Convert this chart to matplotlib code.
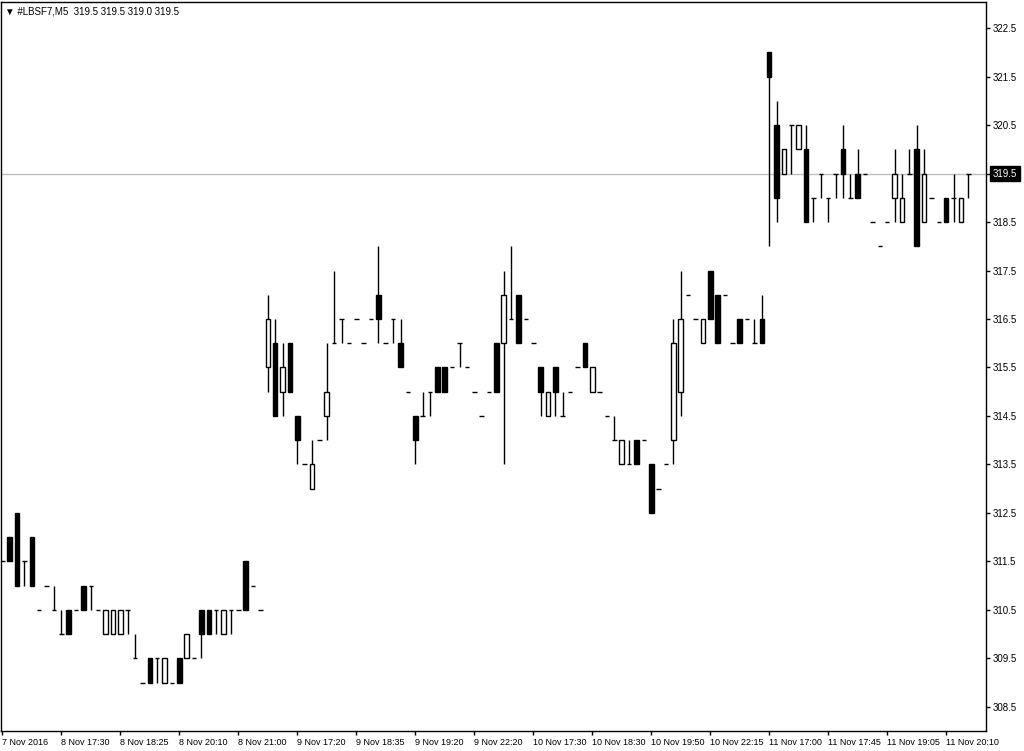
import numpy as np
import matplotlib
matplotlib.use('Agg')
import matplotlib.pyplot as plt
import matplotlib.transforms as mtransforms

plt.rcParams['font.family'] = ['Liberation Sans', 'DejaVu Sans']

# M5 bars of #LBSF7
opens = [311.5, 312.0, 312.5, 311.5, 312.0, 310.5, 311.0, 310.5, 310.0, 310.5,
         310.5, 311.0, 311.0, 310.5, 310.0, 310.0, 310.0, 310.5, 309.5, 309.0,
         309.5, 309.5, 309.0, 309.0, 309.5, 309.5, 309.5, 310.5, 310.5, 310.5,
         310.0, 310.5, 310.5, 311.5, 311.0, 310.5, 315.5, 316.0, 315.0, 316.0,
         314.5, 313.5, 313.0, 314.0, 314.5, 316.0, 316.5, 316.0, 316.5, 316.0,
         316.5, 317.0, 316.0, 316.5, 316.0, 315.0, 314.5, 314.5, 315.0, 315.5,
         315.5, 315.5, 316.0, 315.5, 315.0, 314.5, 315.0, 316.0, 316.0, 316.5,
         317.0, 316.5, 316.0, 315.5, 314.5, 315.5, 314.5, 315.0, 315.5, 316.0,
         315.0, 315.0, 314.5, 314.0, 313.5, 313.5, 314.0, 314.0, 313.5, 313.0,
         313.5, 314.0, 315.0, 317.0, 316.5, 316.0, 317.5, 317.0, 317.0, 316.0,
         316.5, 316.5, 316.0, 316.5, 322.0, 320.5, 319.5, 320.5, 320.0, 320.0,
         319.0, 319.5, 319.0, 319.5, 320.0, 319.0, 319.5, 319.5, 318.5, 318.0,
         318.5, 319.0, 318.5, 319.5, 320.0, 318.5, 319.0, 318.5, 319.0, 319.0,
         318.5, 319.5]
highs = [311.5, 312.0, 312.5, 311.5, 312.0, 310.5, 311.0, 311.0, 310.5, 310.5,
         310.5, 311.0, 311.0, 310.5, 310.5, 310.5, 310.5, 310.5, 310.0, 309.0,
         309.5, 309.5, 309.5, 309.0, 309.5, 310.0, 309.5, 310.5, 310.5, 310.5,
         310.5, 310.5, 310.5, 311.5, 311.0, 310.5, 317.0, 316.5, 316.0, 316.0,
         314.5, 313.5, 314.0, 314.0, 316.0, 317.5, 316.5, 316.0, 316.5, 316.0,
         316.5, 318.0, 316.0, 316.5, 316.5, 315.0, 314.5, 315.0, 315.0, 315.5,
         315.5, 315.5, 316.0, 315.5, 315.0, 314.5, 315.0, 316.0, 317.5, 318.0,
         317.0, 316.5, 316.0, 315.5, 315.0, 315.5, 315.0, 315.0, 315.5, 316.0,
         315.5, 315.0, 314.5, 314.5, 314.0, 314.0, 314.0, 314.0, 313.5, 313.0,
         313.5, 316.5, 317.5, 317.0, 316.5, 316.5, 317.5, 317.0, 317.0, 316.0,
         316.5, 316.5, 316.5, 317.0, 322.0, 321.0, 320.0, 320.5, 320.5, 320.5,
         319.0, 319.5, 319.0, 319.5, 320.5, 319.5, 320.0, 319.5, 318.5, 318.0,
         318.5, 320.0, 319.5, 320.0, 320.5, 320.0, 319.0, 318.5, 319.0, 319.5,
         319.0, 319.5]
lows = [311.5, 311.5, 311.0, 311.0, 311.0, 310.5, 311.0, 310.5, 310.0, 310.0,
        310.5, 310.5, 310.5, 310.5, 310.0, 310.0, 310.0, 310.0, 309.5, 309.0,
        309.0, 309.0, 309.0, 309.0, 309.0, 309.5, 309.5, 309.5, 310.0, 310.0,
        310.0, 310.0, 310.5, 310.5, 311.0, 310.5, 315.0, 314.5, 314.5, 315.0,
        313.5, 313.5, 313.0, 314.0, 314.0, 316.0, 316.0, 316.0, 316.5, 316.0,
        316.5, 316.0, 316.0, 316.0, 315.5, 315.0, 313.5, 314.5, 314.5, 315.0,
        315.0, 315.5, 315.5, 315.5, 315.0, 314.5, 315.0, 315.0, 313.5, 316.5,
        316.0, 316.5, 316.0, 314.5, 314.5, 314.5, 314.5, 315.0, 315.5, 315.5,
        315.0, 315.0, 314.5, 314.0, 313.5, 313.5, 313.5, 314.0, 312.5, 313.0,
        313.5, 313.5, 314.5, 317.0, 316.5, 316.0, 316.5, 316.0, 317.0, 316.0,
        316.0, 316.5, 316.0, 316.0, 318.0, 318.5, 319.5, 319.5, 320.0, 318.5,
        318.5, 319.0, 318.5, 319.0, 319.0, 319.0, 319.0, 319.5, 318.5, 318.0,
        318.5, 318.5, 318.5, 319.5, 318.0, 318.5, 319.0, 318.5, 318.5, 318.5,
        318.5, 319.0]
closes = [311.5, 311.5, 311.0, 311.5, 311.0, 310.5, 311.0, 310.5, 310.0, 310.0,
          310.5, 310.5, 311.0, 310.5, 310.5, 310.5, 310.5, 310.5, 309.5, 309.0,
          309.0, 309.5, 309.5, 309.0, 309.0, 310.0, 309.5, 310.0, 310.0, 310.5,
          310.5, 310.5, 310.5, 310.5, 311.0, 310.5, 316.5, 314.5, 315.5, 315.0,
          314.0, 313.5, 313.5, 314.0, 315.0, 316.0, 316.5, 316.0, 316.5, 316.0,
          316.5, 316.5, 316.0, 316.5, 315.5, 315.0, 314.0, 314.5, 315.0, 315.0,
          315.0, 315.5, 316.0, 315.5, 315.0, 314.5, 315.0, 315.0, 317.0, 316.5,
          316.0, 316.5, 316.0, 315.0, 315.0, 315.0, 314.5, 315.0, 315.5, 315.5,
          315.5, 315.0, 314.5, 314.0, 314.0, 313.5, 313.5, 314.0, 312.5, 313.0,
          313.5, 316.0, 316.5, 317.0, 316.5, 316.5, 316.5, 316.0, 317.0, 316.0,
          316.0, 316.5, 316.0, 316.0, 321.5, 319.0, 320.0, 320.5, 320.5, 318.5,
          319.0, 319.5, 319.0, 319.5, 319.5, 319.0, 319.0, 319.5, 318.5, 318.0,
          318.5, 319.5, 319.0, 319.5, 318.0, 319.5, 319.0, 318.5, 318.5, 319.0,
          319.0, 319.5]

time_labels = ['7 Nov 2016', '8 Nov 17:30', '8 Nov 18:25', '8 Nov 20:10', '8 Nov 21:00',
               '9 Nov 17:20', '9 Nov 18:35', '9 Nov 19:20', '9 Nov 22:20', '10 Nov 17:30',
               '10 Nov 18:30', '10 Nov 19:50', '10 Nov 22:15', '11 Nov 17:00', '11 Nov 17:45',
               '11 Nov 19:05', '11 Nov 20:10']
price_ticks = [308.5, 309.5, 310.5, 311.5, 312.5, 313.5, 314.5, 315.5, 316.5, 317.5,
               318.5, 319.5, 320.5, 321.5, 322.5]
bid = 319.5

o = np.array(opens)
h = np.array(highs)
l = np.array(lows)
c = np.array(closes)
x = np.arange(len(o))

fig = plt.figure(figsize=(10.24, 7.51), dpi=100)
ax = fig.add_axes([1/1024, 20/751, 985/1024, 729/751])

ax.axhline(bid, color='#c0c0c0', lw=1, zorder=0)

ax.vlines(x, l, h, color='black', lw=1, zorder=2)
w = 0.62
up = c > o
down = c < o
flat = c == o
ax.bar(x[up], c[up] - o[up], bottom=o[up], width=w, color='white', edgecolor='black', lw=1, zorder=3)
ax.bar(x[down], o[down] - c[down], bottom=c[down], width=w, color='black', edgecolor='black', lw=1, zorder=3)
ax.hlines(o[flat], x[flat] - w/2, x[flat] + w/2, color='black', lw=1, zorder=3)

ax.set_xlim(-0.18, 133.4)
ax.set_ylim(308.0, 323.04)

ax.yaxis.tick_right()
ax.set_yticks(price_ticks)
ax.set_yticklabels([f'{p:.1f}' for p in price_ticks], fontsize=7)
ax.set_xticks(np.arange(0, 8 * len(time_labels), 8))
ax.set_xticklabels(time_labels, fontsize=6.5, ha='left')
ax.tick_params(axis='both', direction='out', length=3, width=1, color='black', pad=2)
for s in ax.spines.values():
    s.set_linewidth(1)
    s.set_color('black')

tr = mtransforms.blended_transform_factory(ax.transAxes, ax.transData)
ax.text(1 + 7/985, bid, f'{bid:.1f}', transform=tr, ha='left', va='center', fontsize=7,
        color='white', bbox=dict(facecolor='black', edgecolor='black', pad=2), clip_on=False)

ax.text(4/985, 1 - 10/729, '\u25bc #LBSF7,M5  319.5 319.5 319.0 319.5', transform=ax.transAxes,
        ha='left', va='center', fontsize=7)

plt.savefig('out.png', dpi=100)
